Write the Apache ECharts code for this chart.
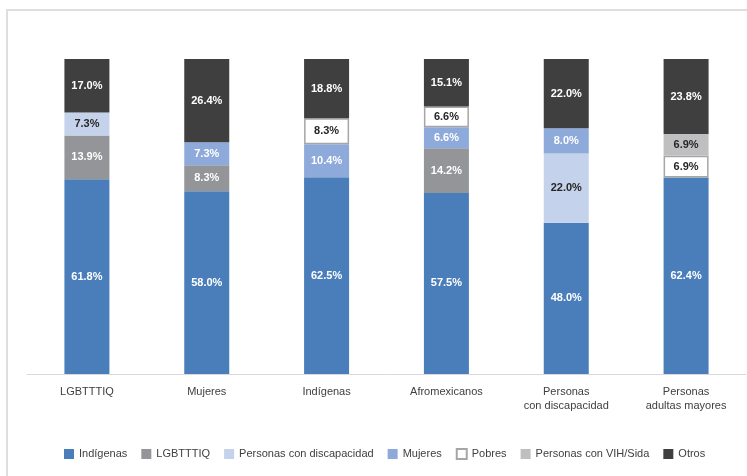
<!DOCTYPE html>
<html>
<head>
<meta charset="utf-8">
<script src="https://cdn.jsdelivr.net/npm/echarts@6/dist/echarts.min.js"></script>
<style>
html,body{margin:0;padding:0;background:#fff;}
#chart{width:747px;height:476px;}
</style>
</head>
<body>
<div id="chart"></div>
<script>
var categories = ['LGBTTTIQ', 'Mujeres', 'Indígenas', 'Afromexicanos', 'Personas\ncon discapacidad', 'Personas\nadultas mayores'];
var indigenas     = [61.8, 58.0, 62.5, 57.5, 48.0, 62.4];
var lgbtttiq      = [13.9, 8.3, null, 14.2, null, null];
var discapacidad  = [7.3, null, null, null, 22.0, null];
var mujeres       = [null, 7.3, 10.4, 6.6, 8.0, null];
var pobres        = [null, null, 8.3, 6.6, null, 6.9];
var vih           = [null, null, null, null, null, 6.9];
var otros         = [17.0, 26.4, 18.8, 15.1, 22.0, 23.8];

var seriesDefs = [
  {name: 'Indígenas', data: indigenas, color: '#4a7ebb', text: '#ffffff'},
  {name: 'LGBTTTIQ', data: lgbtttiq, color: '#939598', text: '#ffffff'},
  {name: 'Personas con discapacidad', data: discapacidad, color: '#c5d2eb', text: '#262626'},
  {name: 'Mujeres', data: mujeres, color: '#8eaadb', text: '#ffffff'},
  {name: 'Pobres', data: pobres, color: '#ffffff', text: '#262626', border: '#a6a6a6'},
  {name: 'Personas con VIH/Sida', data: vih, color: '#bfbfc1', text: '#262626'},
  {name: 'Otros', data: otros, color: '#3f3f3f', text: '#ffffff'}
];

var chart = echarts.init(document.getElementById('chart'), null, {renderer: 'canvas'});
var option = {
  animation: false,
  backgroundColor: '#ffffff',
  textStyle: {fontFamily: '"Liberation Sans", Arial, sans-serif'},
  graphic: [{
    type: 'rect', silent: true, z: -10,
    shape: {x: 7, y: 10, width: 800, height: 500},
    style: {fill: 'none', stroke: '#dedede', lineWidth: 2}
  }],
  grid: {left: 27, right: 1, top: 59, bottom: 102},
  legend: {
    top: 443,
    left: 59,
    itemWidth: 10,
    itemHeight: 10,
    itemGap: 14,
    textStyle: {fontSize: 11, color: '#404040', fontFamily: '"Liberation Sans", Arial, sans-serif'},
    data: seriesDefs.map(function (s) { return {name: s.name, icon: 'rect'}; })
  },
  xAxis: {
    type: 'category',
    data: categories,
    axisLine: {lineStyle: {color: '#d9d9d9', width: 1}},
    axisTick: {show: false},
    axisLabel: {fontSize: 11, color: '#404040', margin: 11, lineHeight: 14, interval: 0}
  },
  yAxis: {
    type: 'value', min: 0, max: 100, show: false,
    splitLine: {show: false}
  },
  series: seriesDefs.map(function (s) {
    return {
      name: s.name,
      type: 'bar',
      stack: 'total',
      barWidth: 45,
      data: s.data,
      itemStyle: {
        color: s.color,
        borderColor: s.border || s.color,
        borderWidth: s.border ? 1.5 : 0
      },
      label: {
        show: true,
        position: 'inside',
        fontSize: 11,
        fontWeight: 'bold',
        color: s.text,
        fontFamily: '"Liberation Sans", Arial, sans-serif',
        formatter: function (p) { return p.value == null ? '' : p.value.toFixed(1) + '%'; }
      }
    };
  })
};
chart.setOption(option);
</script>
</body>
</html>
